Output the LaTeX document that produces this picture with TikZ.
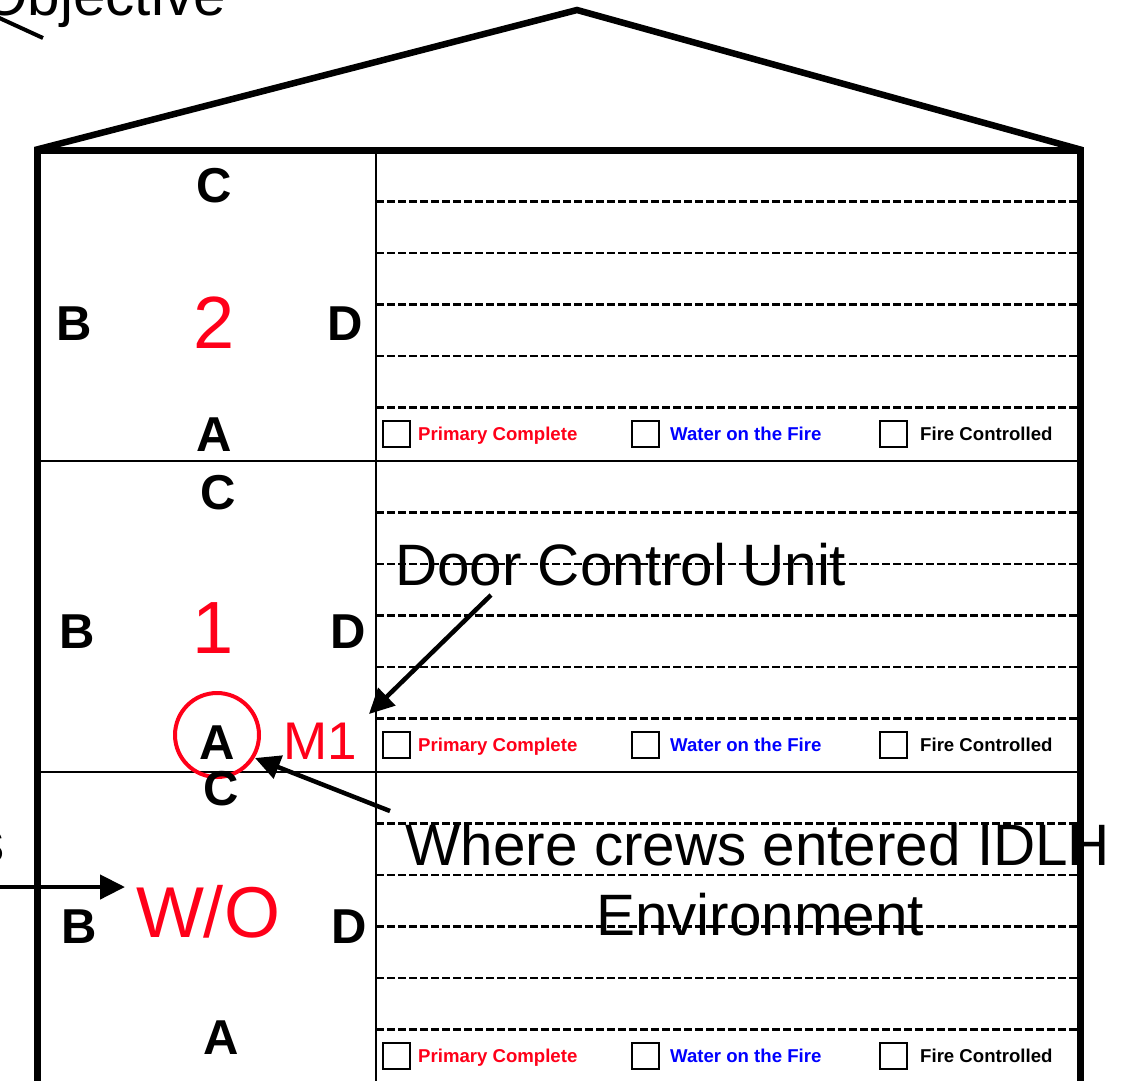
\documentclass[tikz,border=0pt]{standalone}
\usepackage{fontspec}
\setmainfont{Liberation Sans}
\usetikzlibrary{arrows.meta}
\definecolor{fred}{RGB}{255,0,25}
\definecolor{fblue}{RGB}{0,0,255}
\tikzset{
  wall/.style={line width=7pt, line join=miter},
  thinwall/.style={line width=2.5pt},
  dashline/.style={line width=2.3pt, dash pattern=on 7.5pt off 3.5pt},
  side/.style={font=\fontsize{49}{49}\selectfont\bfseries, inner sep=0pt},
  flr/.style={text=fred, font=\fontsize{74}{74}\selectfont, inner sep=0pt},
  note/.style={font=\fontsize{58.4}{58.4}\selectfont, inner sep=0pt},
  cbox/.style={draw, line width=2pt, minimum width=27pt, minimum height=26pt, inner sep=0pt},
  cl/.style={font=\fontsize{18.6}{18.6}\selectfont\bfseries, inner sep=0pt, anchor=base west},
  arr/.style={line width=4.5pt, -{Triangle[length=25pt,width=24pt]}},
}
\begin{document}
\begin{tikzpicture}[x=1pt,y=-1pt]
\useasboundingbox (0,0) rectangle (1139,1080);
\clip (0,0) rectangle (1139,1080);
\fill[white] (0,0) rectangle (1139,1080);

% dashed writing lines
\foreach \t in {150,461,772}{
  \foreach \k in {1,...,5}{
    \draw[dashline] (376,\t+52*\k-0.5*\k) -- (1080,\t+52*\k-0.5*\k);
  }
}

% walls
\draw[wall] (37,1090) -- (37,150) -- (1080,150) -- (1080,1090);
\draw[line width=6.5pt, line join=miter] (35,150) -- (577,10) -- (1082,150);
\draw[thinwall] (37,461) -- (1080,461);
\draw[thinwall] (37,772) -- (1080,772);
\draw[thinwall] (376,150) -- (376,1090);

% floor 2
\node[side] (c2) at (214,186) {C};
\node[side] (b2) at (74,324) {B};
\node[flr]  (n2) at (214,323) {2};
\node[side] (d2) at (345,324) {D};
\node[side] (a2) at (214,435) {A};
% floor 1
\node[side] (c1) at (218,493) {C};
\node[side] (b1) at (77,632) {B};
\node[flr]  (n1) at (213,628) {1};
\node[side] (d1) at (348,632) {D};
\node[side] (a1) at (217,743) {A};
\node[text=fred, font=\fontsize{53}{53}\selectfont, inner sep=0pt] (m1) at (320,741) {M1};
\node[circle, draw=fred, line width=4pt, minimum size=84pt, inner sep=0pt] (ring) at (217,735) {};
% floor 0
\node[side] (c0) at (221,789) {C};
\node[side] (b0) at (79,927) {B};
\node[text=fred, font=\fontsize{72}{72}\selectfont, inner sep=0pt] (wo) at (208,912) {W/O};
\node[side] (d0) at (349,927) {D};
\node[side] (a0) at (221,1038) {A};

% check rows
\foreach \r/\y in {2/440,1/751,0/1062}{
  \node[cbox] (pb\r) at (396,\y-6) {};
  \node[cl, text=fred] (pt\r) at (418,\y) {Primary Complete};
  \node[cbox] (wb\r) at (645,\y-6) {};
  \node[cl, text=fblue] (wt\r) at (670,\y) {Water on the Fire};
  \node[cbox] (fb\r) at (893,\y-6) {};
  \node[cl] (ft\r) at (920,\y) {Fire Controlled};
}

% annotations
\node[note, anchor=base west] (dcu) at (395,585) {Door Control Unit};
\node[note, anchor=base] (idlhA) at (758,865) {Where crews entered IDLH};
\node[note, anchor=base] (idlhB) at (760,935) {Environment};
\node[note, anchor=base east] (obj) at (226,15) {Objective};
\node[note, anchor=base east] (cut) at (5,862) {s};

\coordinate (dcuTail) at (491,595);
\coordinate (dcuTip) at (369,714);
\coordinate (idlhTail) at (390,811);
\coordinate (idlhTip) at (255,758);
\coordinate (woTail) at (-5,887);
\coordinate (woTip) at (125,887);
\coordinate (objTail) at (-5,16);
\coordinate (objEnd) at (43,38);

\draw[arr] (dcuTail) -- (dcuTip);
\draw[arr] (idlhTail) -- (idlhTip);
\draw[arr] (woTail) -- (woTip);
\draw[line width=4pt] (objTail) -- (objEnd);
\end{tikzpicture}
\end{document}
